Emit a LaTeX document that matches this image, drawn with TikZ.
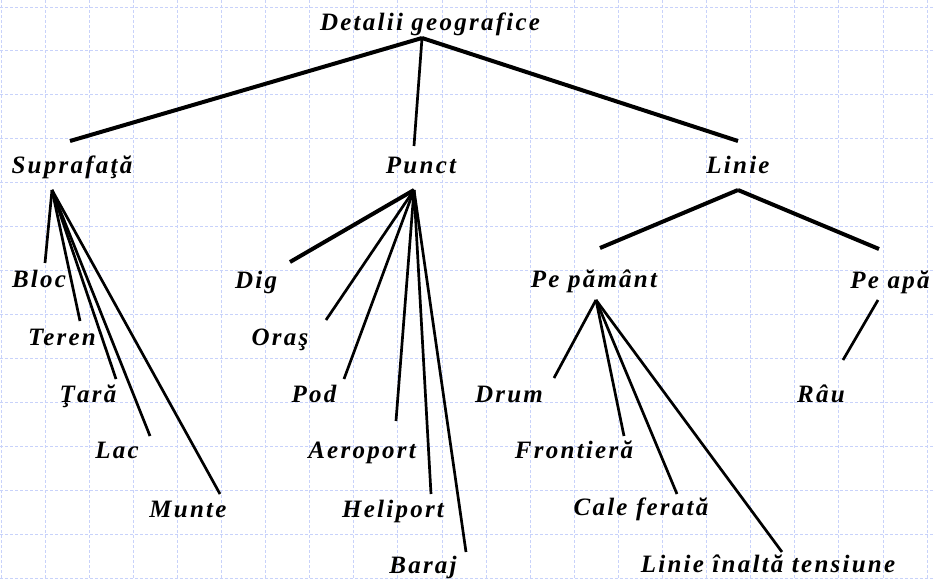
\documentclass[tikz,border=0pt]{standalone}
\usepackage{fontspec}
\setmainfont{Liberation Serif}[LetterSpace=9]
\definecolor{gridblue}{RGB}{200,210,250}
\begin{document}
\begin{tikzpicture}[x=0.5pt,y=-0.5pt,
    lbl/.style={anchor=base,inner sep=0pt,font=\fontsize{12.5}{15}\selectfont\bfseries\itshape},
    lnk/.style={line width=1.35pt},
    lnkb/.style={line width=2pt}]
    \fill[white] (0,0) rectangle (934,580);
    \useasboundingbox (0,0) rectangle (934,580);
    % grid
    \foreach \i in {0,...,21}
        \draw[gridblue, line width=0.5pt, dash pattern=on 1.5pt off 1pt] (1+44.1*\i,0) -- (1+44.1*\i,580);
    \foreach \j in {0,...,13}
        \draw[gridblue, line width=0.5pt, dash pattern=on 1.5pt off 1pt] (0,7+43.95*\j) -- (934,7+43.95*\j);
    % labels
    \node[lbl] (det) at (430,30) {Detalii geografice};
    \node[lbl] (sup) at (72,173) {Suprafaţă};
    \node[lbl] (pun) at (421,173) {Punct};
    \node[lbl] (lin) at (738,173) {Linie};
    \node[lbl] (bloc) at (39,287) {Bloc};
    \node[lbl] (teren) at (62,345) {Teren};
    \node[lbl] (tara) at (88,402) {Ţară};
    \node[lbl] (lac) at (117,458) {Lac};
    \node[lbl] (munte) at (188,517) {Munte};
    \node[lbl] (dig) at (256,288) {Dig};
    \node[lbl] (oras) at (280,345) {Oraş};
    \node[lbl] (pod) at (314,402) {Pod};
    \node[lbl] (aero) at (362,458) {Aeroport};
    \node[lbl] (heli) at (393,517) {Heliport};
    \node[lbl] (baraj) at (423,573) {Baraj};
    \node[lbl] (pep) at (594,287) {Pe pământ};
    \node[lbl] (pea) at (890,288) {Pe apă};
    \node[lbl] (drum) at (509,402) {Drum};
    \node[lbl] (front) at (574,458) {Frontieră};
    \node[lbl] (cale) at (641,515) {Cale ferată};
    \node[lbl] (lit) at (768,572) {Linie înaltă tensiune};
    \node[lbl] (rau) at (821,402) {Râu};
    % line ends
    \coordinate (det-j) at (422,38);
    \coordinate (sup-t) at (70,141);
    \coordinate (pun-t) at (414,146);
    \coordinate (lin-t) at (738,141);
    \coordinate (sup-j) at (52,190);
    \coordinate (bloc-t) at (45,263);
    \coordinate (teren-t) at (80,321);
    \coordinate (tara-t) at (116,379);
    \coordinate (lac-t) at (150,436);
    \coordinate (munte-t) at (220,494);
    \coordinate (pun-j) at (414,190);
    \coordinate (dig-t) at (290,262);
    \coordinate (oras-t) at (326,320);
    \coordinate (pod-t) at (344,379);
    \coordinate (aero-t) at (396,421);
    \coordinate (heli-t) at (431,494);
    \coordinate (baraj-t) at (466,552);
    \coordinate (lin-j) at (738,190);
    \coordinate (pep-t) at (600,248);
    \coordinate (pea-t) at (879,249);
    \coordinate (pep-j) at (596,300);
    \coordinate (drum-t) at (554,378);
    \coordinate (front-t) at (624,436);
    \coordinate (cale-t) at (677,494);
    \coordinate (lit-t) at (782,552);
    \coordinate (pea-j) at (878,300);
    \coordinate (rau-t) at (843,360);
    % connectors
    \foreach \c in {sup,lin}
        \draw[lnkb] (det-j) -- (\c-t);
    \draw[lnk] (det-j) -- (pun-t);
    \foreach \c in {bloc,teren,tara,lac,munte}
        \draw[lnk] (sup-j) -- (\c-t);
    \draw[lnkb] (pun-j) -- (dig-t);
    \foreach \c in {oras,pod,aero,heli,baraj}
        \draw[lnk] (pun-j) -- (\c-t);
    \foreach \c in {pep,pea}
        \draw[lnkb] (lin-j) -- (\c-t);
    \foreach \c in {drum,front,cale,lit}
        \draw[lnk] (pep-j) -- (\c-t);
    \draw[lnk] (pea-j) -- (rau-t);
\end{tikzpicture}
\end{document}
